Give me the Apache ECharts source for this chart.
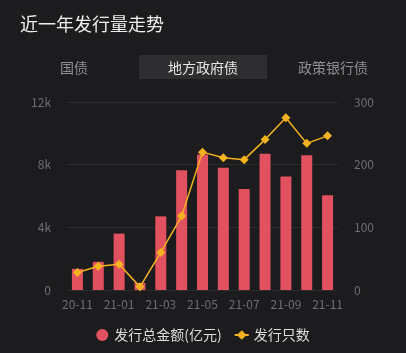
<!DOCTYPE html>
<html>
<head>
<meta charset="utf-8">
<script src="https://cdn.jsdelivr.net/npm/echarts@6/dist/echarts.min.js"></script>
<style>
  html, body { margin: 0; padding: 0; background: #1c1c1e; }
  #chart { width: 406px; height: 353px; }
</style>
</head>
<body>
<div id="chart"></div>
<script>
const months = ['20-11', '20-12', '21-01', '21-02', '21-03', '21-04', '21-05', '21-06', '21-07', '21-08', '21-09', '21-10', '21-11'];
const amount = [1350, 1800, 3600, 450, 4700, 7650, 8650, 7800, 6450, 8700, 7250, 8600, 6050];
const count = [28, 38, 41, 5, 60, 118, 220, 211, 208, 240, 275, 234, 246];
const tabs = ['国债', '地方政府债', '政策银行债'];

const font = '"Noto Sans CJK SC", "Noto Sans", sans-serif';
const chart = echarts.init(document.getElementById('chart'));

chart.setOption({
  backgroundColor: '#1c1c1e',
  textStyle: { fontFamily: font },
  graphic: [
    { type: 'text', left: 20, top: 15, style: { text: '近一年发行量走势', fill: '#eeeeee', font: '18px ' + font } },
    { type: 'rect', shape: { x: 139, y: 55, width: 128, height: 24 }, style: { fill: '#2e2e31' } },
    { type: 'text', x: 74, y: 68, style: { text: tabs[0], fill: '#8e8e92', font: '14px ' + font, align: 'center', verticalAlign: 'middle' } },
    { type: 'text', x: 203, y: 68, style: { text: tabs[1], fill: '#e6e6e6', font: '14px ' + font, align: 'center', verticalAlign: 'middle' } },
    { type: 'text', x: 333, y: 68, style: { text: tabs[2], fill: '#8e8e92', font: '14px ' + font, align: 'center', verticalAlign: 'middle' } }
  ],
  legend: {
    bottom: 6,
    left: 'center',
    itemGap: 12,
    itemWidth: 14,
    itemHeight: 12,
    textStyle: { color: '#dddddd', fontSize: 14, fontFamily: font },
    data: [
      { name: '发行总金额(亿元)', icon: 'circle' },
      { name: '发行只数' }
    ]
  },
  grid: { left: 67, right: 68, top: 102, bottom: 63 },
  xAxis: {
    type: 'category',
    data: months,
    axisTick: { show: false },
    axisLine: { show: false },
    axisLabel: { color: '#6e6e72', fontSize: 12, interval: 1, margin: 8 }
  },
  yAxis: [
    {
      type: 'value',
      min: 0,
      max: 12000,
      interval: 4000,
      axisLine: { show: false },
      axisTick: { show: false },
      splitLine: { lineStyle: { color: '#2c2c2f', width: 1 } },
      axisLabel: {
        color: '#6e6e72',
        fontSize: 12,
        margin: 16,
        formatter: v => (v === 0 ? '0' : v / 1000 + 'k')
      }
    },
    {
      type: 'value',
      min: 0,
      max: 300,
      interval: 100,
      axisLine: { show: false },
      axisTick: { show: false },
      splitLine: { show: false },
      axisLabel: { color: '#6e6e72', fontSize: 12, margin: 16 }
    }
  ],
  series: [
    {
      name: '发行总金额(亿元)',
      type: 'bar',
      data: amount,
      barWidth: 11,
      itemStyle: { color: '#e2515f' }
    },
    {
      name: '发行只数',
      type: 'line',
      yAxisIndex: 1,
      data: count,
      symbol: 'diamond',
      symbolSize: 9,
      lineStyle: { color: '#f3b21f', width: 1.5 },
      itemStyle: { color: '#f3b21f' }
    }
  ]
});
</script>
</body>
</html>
